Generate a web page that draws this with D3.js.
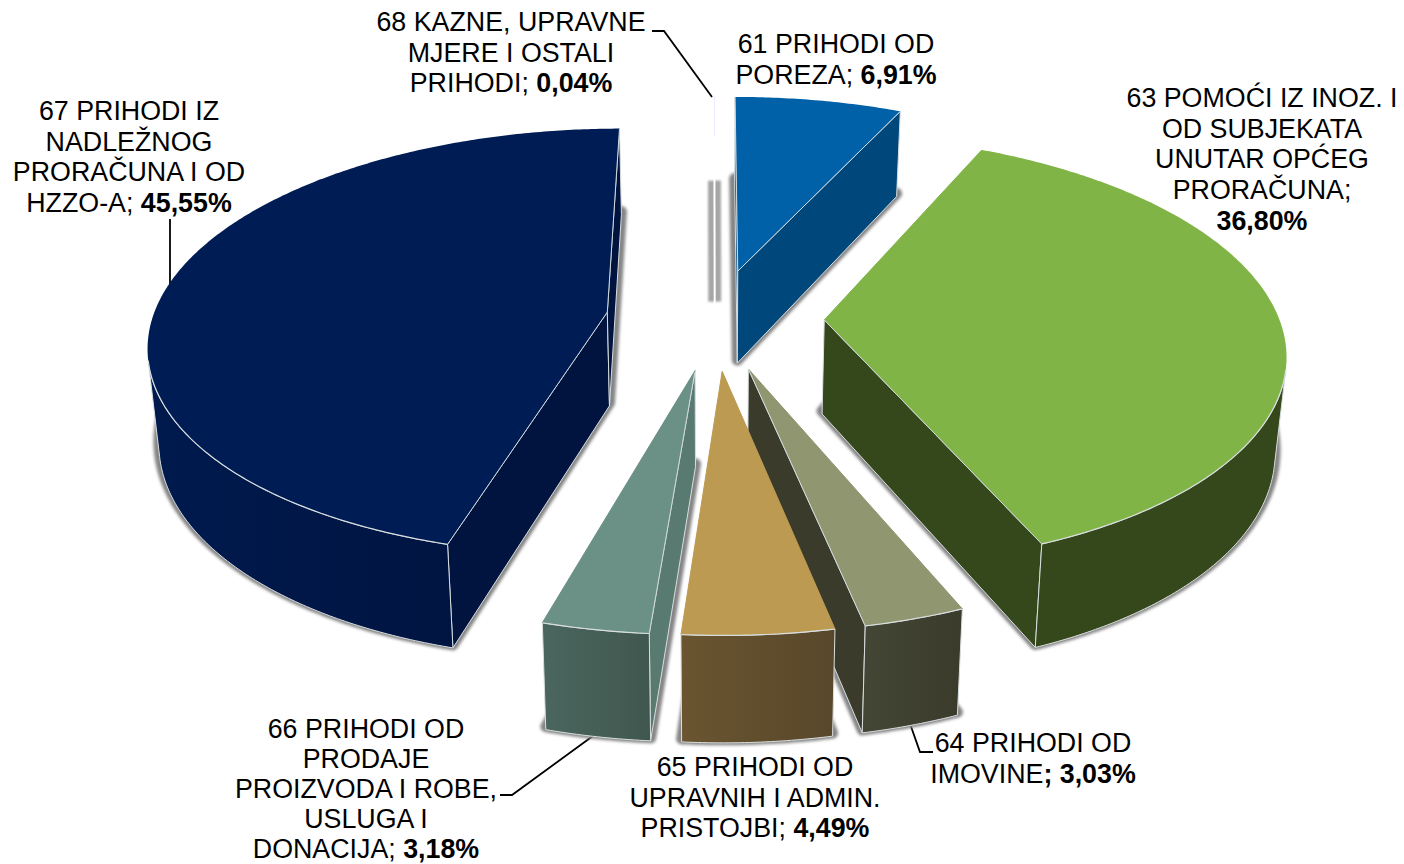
<!DOCTYPE html>
<html>
<head>
<meta charset="utf-8">
<script src="https://cdn.jsdelivr.net/npm/d3@7/dist/d3.min.js"></script>
<style>
html,body{margin:0;padding:0;background:#fff}
svg{display:block}
text{font-family:"Liberation Sans",Arial,sans-serif;font-size:26.8px;fill:#000;text-anchor:middle}
</style>
</head>
<body>
<svg id="chart" width="1404" height="864"></svg>
<script>
// ---------- data ----------
const codes = ["61","63","64","65","66","67","68"];
const values = [6.91,36.80,3.03,4.49,3.18,45.55,0.04];
const labelLines = [
  ["61 PRIHODI OD","POREZA"],
  ["63 POMOĆI IZ INOZ. I","OD SUBJEKATA","UNUTAR OPĆEG","PRORAČUNA"],
  ["64 PRIHODI OD","IMOVINE"],
  ["65 PRIHODI OD","UPRAVNIH I ADMIN.","PRISTOJBI"],
  ["66 PRIHODI OD","PRODAJE","PROIZVODA I ROBE,","USLUGA I","DONACIJA"],
  ["67 PRIHODI IZ","NADLEŽNOG","PRORAČUNA I OD","HZZO-A"],
  ["68 KAZNE, UPRAVNE","MJERE I OSTALI","PRIHODI"]
];

// ---------- styles ----------
const topColors  = ["#0060a8","#80b446","#8f9670","#bd9a52","#6b9086","#001c54","#eeeeff"];
const cutColors  = ["#00477c","#34481c","#3a3b2b","#5a4826","#587a70","#00143f","#a6a6a6"];
const wallFrom   = ["#00477c","#34481c","#444635","#6a5530","#4a665e","#001a4e","#a6a6a6"];
const wallTo     = ["#00477c","#34481c","#3a3b2b","#58472a","#40574f","#00113a","#a6a6a6"];
const drawOrder  = ["61","67","63","64","66","65"];

// label layout: centre x, first baseline, line step, leader path
const labelLayout = {
  "61":{x:836,y:53,step:30.7},
  "63":{x:1262,y:107,step:30.7,own:true},
  "64":{x:1033,y:752,step:30.7,leader:[[908,718],[920,752],[933,752]],boldSemi:true},
  "65":{x:755,y:776,step:30.7},
  "66":{x:366,y:738,step:30,leader:[[500,795],[512,795],[597,733]]},
  "67":{x:129,y:120,step:30.7,leader:[[170,219],[170,290]]},
  "68":{x:511,y:31,step:30.7,leader:[[652,31],[664,31],[712,97]]}
};

// ---------- projection of the tilted pie ----------
const X0=715, Y0=319, K=455, M=211, P=0.14, DEPTH=94, BOT=0.98, EXPLODE=0.24;
function project(u,v,z){
  const s=1/(1+P*v), f=1-(1-BOT)*z;
  return [X0+K*u*s*f, Y0-M*v*s*f+DEPTH*s*z];
}
const pie=d3.pie().sort(null).value(d=>d).startAngle(0).endAngle(2*Math.PI);
const arcs=pie(values).map((a,i)=>{
  const mid=(a.startAngle+a.endAngle)/2;
  return {i,code:codes[i],a0:a.startAngle,a1:a.endAngle,eu:EXPLODE*Math.sin(mid),ev:EXPLODE*Math.cos(mid)};
});
const pt=(d,r,ang,z)=>project(d.eu+r*Math.sin(ang),d.ev+r*Math.cos(ang),z);
function rimAngles(d){
  const n=Math.max(2,Math.ceil((d.a1-d.a0)/0.01));
  return d3.range(n+1).map(k=>d.a0+(d.a1-d.a0)*k/n);
}
const rim=(d,z)=>rimAngles(d).map(a=>pt(d,1,a,z));
const line=d3.line();
const closed=p=>line(p)+"Z";
const capPath=(d,z)=>closed([pt(d,0,0,z),...rim(d,z)]);
const area=p=>-d3.polygonArea(p);

// ---------- drawing ----------
const svg=d3.select("#chart");
const defs=svg.append("defs");
function blurFilter(id,sd){
  defs.append("filter").attr("id",id).attr("filterUnits","userSpaceOnUse")
    .attr("x",0).attr("y",0).attr("width",1404).attr("height",864)
    .append("feGaussianBlur").attr("stdDeviation",sd);
}
blurFilter("sh",1.7);
blurFilter("shs",0.8);

arcs.forEach(d=>{
  const g=defs.append("linearGradient").attr("id","w"+d.code).attr("gradientUnits","userSpaceOnUse");
  const xs=rim(d,0).map(p=>p[0]);
  g.attr("x1",d3.min(xs)).attr("x2",d3.max(xs)).attr("y1",0).attr("y2",0);
  g.append("stop").attr("offset",0).attr("stop-color",wallFrom[d.i]);
  g.append("stop").attr("offset",1).attr("stop-color",wallTo[d.i]);
});

const byCode=Object.fromEntries(arcs.map(d=>[d.code,d]));

// leader lines sit under the slices, which hide their far ends
const leaders=svg.append("g");
arcs.forEach(d=>{
  const L=labelLayout[d.code];
  if(L.leader) leaders.append("path").attr("d",line(L.leader)).attr("fill","none")
    .attr("stroke","#000").attr("stroke-width",1.8);
});

const shadows=svg.append("g");
shadows.selectAll("path").data(arcs.filter(d=>d.code!=="68")).join("path")
  .attr("d",d=>capPath(d,1))
  .attr("transform","translate(0,-3)")
  .attr("fill","#858585").attr("stroke","#858585").attr("stroke-width",11)
  .attr("stroke-linejoin","round").attr("filter","url(#sh)");

// the very thin slice 68: only its shadow and a faint sliver can be seen
const thin=byCode["68"], thinMid=(thin.a0+thin.a1)/2;
const thinG=svg.append("g");
thinG.append("path")
  .attr("d",line([pt(thin,1,thinMid,1),pt(thin,0.305,thinMid,1)]))
  .attr("stroke",cutColors[6]).attr("stroke-width",13).attr("fill","none").attr("filter","url(#shs)");
thinG.append("path")
  .attr("d",line([pt(thin,1.03,thinMid,1),pt(thin,0.27,thinMid,1)]))
  .attr("stroke","#ffffff").attr("stroke-width",2).attr("fill","none");
thinG.append("path")
  .attr("d",line([pt(thin,1,thinMid,0),pt(thin,0.745,thinMid,0)]))
  .attr("stroke",topColors[6]).attr("stroke-width",1.2).attr("fill","none");

const edge="#d8dedf";
const slices=svg.selectAll("g.slice").data(drawOrder.map(c=>byCode[c])).join("g").attr("class","slice");
slices.each(function(d){
  const g=d3.select(this);
  const style=p=>p.attr("stroke",edge).attr("stroke-width",1).attr("stroke-linejoin","round");
  // flat cut faces: only the ones turned to the viewer
  [[d.a0,-1],[d.a1,1]].forEach(([ang,sign])=>{
    const q=[pt(d,0,0,0),pt(d,1,ang,0),pt(d,1,ang,1),pt(d,0,0,1)];
    if(sign*area(q)>0) style(g.append("path").attr("d",closed(q)).attr("fill",cutColors[d.i]));
  });
  // curved outer wall: only the segments turned to the viewer
  const A=rimAngles(d), top=rim(d,0), bot=rim(d,1), idxSet=new Set();
  for(let k=0;k<A.length-1;k++){
    if(area([top[k],top[k+1],bot[k+1],bot[k]])<0){idxSet.add(k);idxSet.add(k+1);}
  }
  const idx=[...idxSet];
  if(idx.length>1){
    style(g.append("path").attr("d",closed([...idx.map(k=>top[k]),...idx.map(k=>bot[k]).reverse()]))
      .attr("fill","url(#w"+d.code+")"));
  }
  // top face
  g.append("path").attr("d",capPath(d,0)).attr("fill",topColors[d.i]);
  // light outline only where the top meets a visible wall or a near cut
  if(idx.length>1) g.append("path").attr("d",line(idx.map(k=>top[k]))).attr("fill","none")
    .attr("stroke",edge).attr("stroke-width",1.2);
  [[d.a0,-1],[d.a1,1]].forEach(([ang,sign])=>{
    const q=[pt(d,0,0,0),pt(d,1,ang,0),pt(d,1,ang,1),pt(d,0,0,1)];
    g.append("path").attr("d",line(q.slice(0,2))).attr("fill","none")
      .attr("stroke",sign*area(q)>0?"#cfd8da":topColors[d.i]).attr("stroke-width",1);
  });
});

// ---------- labels ----------
const fmt=v=>v.toFixed(2).replace(".",",")+"%";
const labels=svg.append("g");
arcs.forEach(d=>{
  const L=labelLayout[d.code], lines=labelLines[d.i];
  lines.forEach((t,k)=>{
    const tx=labels.append("text").attr("x",L.x).attr("y",L.y+k*L.step);
    if(k<lines.length-1){tx.text(t);return;}
    if(L.own){
      tx.text(t+";");
      labels.append("text").attr("x",L.x).attr("y",L.y+(k+1)*L.step).attr("font-weight","bold").text(fmt(values[d.i]));
    } else if(L.boldSemi){
      tx.append("tspan").text(t);
      tx.append("tspan").attr("font-weight","bold").text("; "+fmt(values[d.i]));
    } else {
      tx.append("tspan").text(t+"; ");
      tx.append("tspan").attr("font-weight","bold").text(fmt(values[d.i]));
    }
  });
});
</script>
</body>
</html>
